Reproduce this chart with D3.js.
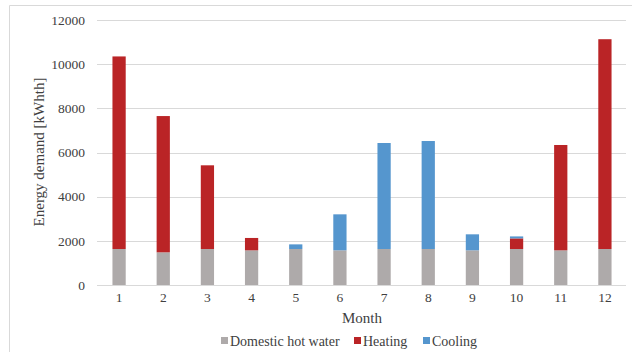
<!DOCTYPE html>
<html><head><meta charset="utf-8">
<script src="https://cdn.jsdelivr.net/npm/d3@7"></script>
<style>body{margin:0;background:#fff}svg{display:block}svg text{font-family:"Liberation Serif","Times New Roman",serif !important;fill:#404040}</style>
</head><body><svg id="c" width="632" height="352"></svg>
<script>
const months = ["1","2","3","4","5","6","7","8","9","10","11","12"];
const dhw = [1630,1480,1630,1570,1630,1570,1630,1630,1570,1630,1570,1630];
const heating = [8720,6170,3790,560,0,0,0,0,0,480,4770,9500];
const cooling = [0,0,0,0,210,1630,4800,4890,725,90,0,0];
const seriesNames = ["Domestic hot water","Heating","Cooling"];
const colors = ["#AEAAAA","#BA2426","#5596CE"];
const yTicks = [0,2000,4000,6000,8000,10000,12000];

const svg = d3.select("#c");
svg.append("path").attr("d","M9.5,352V5.5H632").attr("fill","none").attr("stroke","#d9d9d9");

const x = d3.scaleBand().domain(months).range([97,627]).paddingInner(0.7).paddingOuter(0.35);
const y = d3.scaleLinear().domain([0,12000]).range([285,20]);

svg.append("g").selectAll("line").data(yTicks).join("line")
  .attr("x1",97).attr("x2",626).attr("y1",d=>Math.round(y(d))+0.5).attr("y2",d=>Math.round(y(d))+0.5)
  .attr("stroke","#d9d9d9").attr("stroke-width",1.2);

const data = months.map((m,i)=>({m,"Domestic hot water":dhw[i],"Heating":heating[i],"Cooling":cooling[i]}));
const stack = d3.stack().keys(seriesNames)(data);
svg.append("g").selectAll("g").data(stack).join("g").attr("fill",(d,i)=>colors[i])
  .selectAll("rect").data(d=>d).join("rect")
  .attr("x",d=>x(d.data.m)).attr("width",x.bandwidth())
  .attr("y",d=>y(d[1])).attr("height",d=>y(d[0])-y(d[1]));

const ya = svg.append("g").attr("transform","translate(85,0)")
  .call(d3.axisLeft(y).tickValues(yTicks).tickFormat(d3.format("d")).tickSize(0).tickPadding(0));
ya.select(".domain").remove();
ya.attr("font-family",null);
ya.selectAll("text").attr("font-size",13.5);

const xa = svg.append("g").attr("transform","translate(0,292)")
  .call(d3.axisBottom(x).tickSize(0).tickPadding(0));
xa.select(".domain").remove();
xa.attr("font-family",null);
xa.selectAll("text").attr("font-size",13.5);

svg.append("text").attr("transform","translate(44,152) rotate(-90)").attr("text-anchor","middle")
  .attr("font-size",15).text("Energy demand [kWhth]");
svg.append("text").attr("x",362).attr("y",323).attr("text-anchor","middle").attr("font-size",15).text("Month");

const legX = [221,354,423];
const lg = svg.append("g").selectAll("g").data(seriesNames).join("g")
  .attr("transform",(d,i)=>`translate(${legX[i]},0)`);
lg.append("rect").attr("x",0).attr("y",337).attr("width",7).attr("height",7).attr("fill",(d,i)=>colors[i]);
lg.append("text").attr("x",9).attr("y",346).attr("font-size",14).text(d=>d);
</script></body></html>
